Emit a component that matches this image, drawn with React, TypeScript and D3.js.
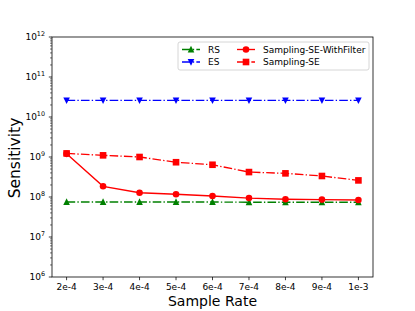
import React from "react";
import * as d3 from "d3";

const categories = ["2e-4", "3e-4", "4e-4", "5e-4", "6e-4", "7e-4", "8e-4", "9e-4", "1e-3"];
const rsValues = [7.5e7, 7.5e7, 7.5e7, 7.5e7, 7.5e7, 7.4e7, 7.4e7, 7.4e7, 7.4e7];
const esValues = [2.6e10, 2.6e10, 2.6e10, 2.6e10, 2.6e10, 2.6e10, 2.6e10, 2.6e10, 2.6e10];
const withFilterValues = [1.2e9, 1.85e8, 1.28e8, 1.17e8, 1.06e8, 9.4e7, 8.8e7, 8.6e7, 8.4e7];
const samplingSEValues = [1.23e9, 1.1e9, 1.0e9, 7.4e8, 6.4e8, 4.2e8, 3.9e8, 3.35e8, 2.6e8];
const yTickExps = [6, 7, 8, 9, 10, 11, 12];

const W = 415, H = 311;
const L = 52, R = 373, T = 37, B = 277;
const FONT = "DejaVu Sans, sans-serif";
const DASHDOT = "8.6,2.2,1.35,2.2";

type Series = { name: string; values: number[]; color: string; dash?: string; marker: string };

const series: Series[] = [
  { name: "RS", values: rsValues, color: "#008000", dash: DASHDOT, marker: "tri-up" },
  { name: "ES", values: esValues, color: "#0000ff", dash: DASHDOT, marker: "tri-down" },
  { name: "Sampling-SE-WithFilter", values: withFilterValues, color: "#ff0000", marker: "circle" },
  { name: "Sampling-SE", values: samplingSEValues, color: "#ff0000", dash: DASHDOT, marker: "square" },
];

function Marker({ kind, x, y, color }: { kind: string; x: number; y: number; color: string }) {
  const s = 3.3;
  if (kind === "circle") return <circle cx={x} cy={y} r={s} fill={color} />;
  if (kind === "square") return <rect x={x - s} y={y - s} width={2 * s} height={2 * s} fill={color} />;
  if (kind === "tri-up")
    return <path d={`M${x},${y - s * 1.1}L${x + s},${y + s * 0.9}L${x - s},${y + s * 0.9}Z`} fill={color} />;
  return <path d={`M${x},${y + s * 1.1}L${x + s},${y - s * 0.9}L${x - s},${y - s * 0.9}Z`} fill={color} />;
}

export default function App() {
  const x = d3.scaleLinear().domain([-0.4, categories.length - 1 + 0.4]).range([L, R]);
  const y = d3.scaleLog().domain([1e6, 1e12]).range([B, T]);
  const line = d3.line<number>().x((_, i) => x(i)).y((d) => y(d));

  const minor: number[] = [];
  for (let e = 6; e < 12; e++) for (let m = 2; m <= 9; m++) minor.push(m * Math.pow(10, e));

  const legendCols = [
    { sx: 182, tx: 208, items: [series[0], series[1]] },
    { sx: 237, tx: 263, items: [series[2], series[3]] },
  ];
  const rows = [49.5, 62];

  return (
    <svg width={W} height={H} style={{ position: "absolute", left: 0, top: 0 }} fontFamily={FONT}>
      <rect width={W} height={H} fill="#fff" />
      {series.map((s) => (
        <g key={s.name}>
          <path d={line(s.values) || ""} fill="none" stroke={s.color} strokeWidth={1.35} strokeDasharray={s.dash} />
          {s.values.map((v, i) => (
            <Marker key={i} kind={s.marker} x={x(i)} y={y(v)} color={s.color} />
          ))}
        </g>
      ))}
      <rect x={L} y={T} width={R - L} height={B - T} fill="none" stroke="#000" strokeWidth={0.8} />
      {minor.map((v) => (
        <line key={v} x1={L - 2} x2={L} y1={y(v)} y2={y(v)} stroke="#000" strokeWidth={0.55} />
      ))}
      {yTickExps.map((e) => {
        const ty = y(Math.pow(10, e));
        return (
          <g key={e}>
            <line x1={L - 3.2} x2={L} y1={ty} y2={ty} stroke="#000" strokeWidth={0.75} />
            <text x={45} y={ty + 3.3} textAnchor="end" fontSize={9} fill="#000">
              10<tspan dy={-4.4} fontSize={6.4}>{e}</tspan>
            </text>
          </g>
        );
      })}
      {categories.map((c, i) => (
        <g key={c}>
          <line x1={x(i)} x2={x(i)} y1={B} y2={B + 3.2} stroke="#000" strokeWidth={0.75} />
          <text x={x(i)} y={290} textAnchor="middle" fontSize={9} fill="#000">{c}</text>
        </g>
      ))}
      <text x={(L + R) / 2} y={306} textAnchor="middle" fontSize={14} fill="#000">Sample Rate</text>
      <text transform={`translate(19.5,158) rotate(-90)`} textAnchor="middle" fontSize={15.5} fill="#000">
        Sensitivity
      </text>
      <rect x={178} y={42} width={191} height={28} rx={2} fill="#fff" fillOpacity={0.8} stroke="#ccc" strokeWidth={0.8} />
      {legendCols.map((col, ci) =>
        col.items.map((s, ri) => (
          <g key={`${ci}-${ri}`}>
            <line x1={col.sx} x2={col.sx + 18} y1={rows[ri]} y2={rows[ri]} stroke={s.color} strokeWidth={1.35} strokeDasharray={s.dash} />
            <Marker kind={s.marker} x={col.sx + 9} y={rows[ri]} color={s.color} />
            <text x={col.tx} y={rows[ri] + 3.3} fontSize={9} fill="#000">{s.name}</text>
          </g>
        ))
      )}
    </svg>
  );
}
